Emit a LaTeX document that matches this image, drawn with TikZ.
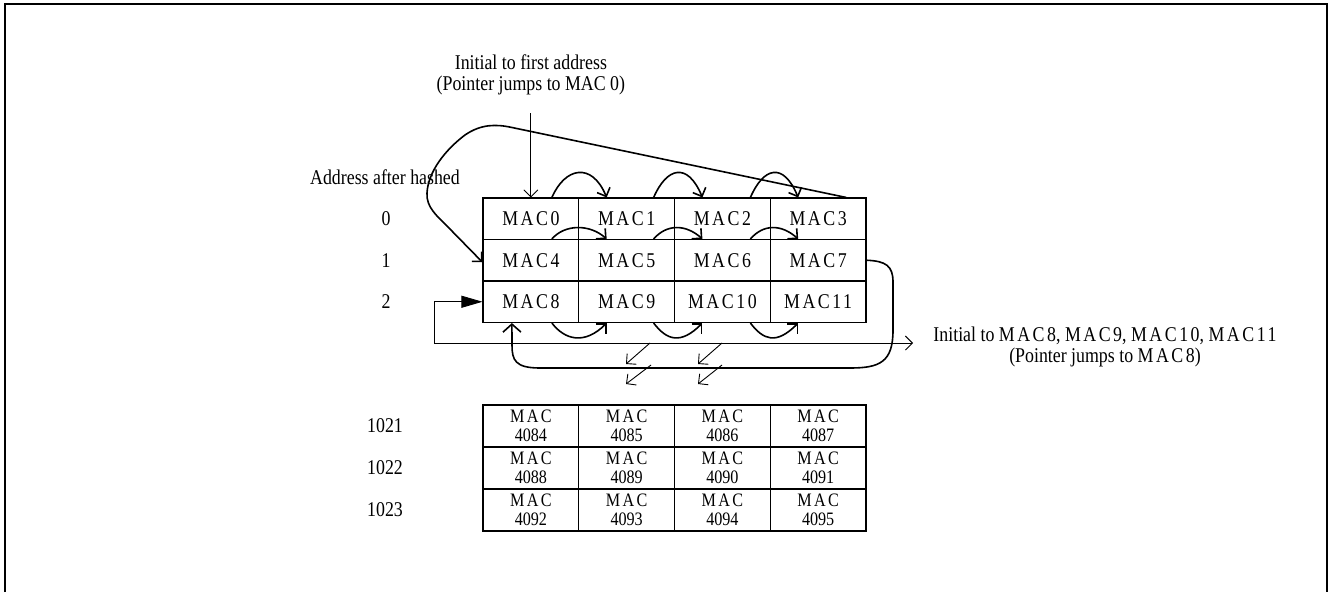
\documentclass[tikz,border=0pt]{standalone}
\usepackage{fontspec}
\setmainfont{Liberation Serif}[FakeStretch=0.85]
\newfontfamily\macfont{Liberation Serif}[FakeStretch=0.85,LetterSpace=12]
\usetikzlibrary{arrows.meta,calc}
\begin{document}
\begin{tikzpicture}[x=1pt,y=-1pt,
  every node/.style={font=\fontsize{21}{21}\selectfont},
  cell/.style={draw, line width=1.1pt, minimum width=95.75pt, minimum height=41.5pt, inner sep=0pt, font=\fontsize{21}{21}\selectfont\macfont},
  lcell/.style={draw, line width=1.1pt, minimum width=95.75pt, minimum height=42pt, inner sep=0pt, align=center, font=\fontsize{19}{18.5}\selectfont},
  hop/.style={line width=1.6pt, -{Straight Barb[length=7pt,width=14pt]}},
  thinline/.style={line width=0.9pt, -{Straight Barb[length=7pt,width=14pt]}},
  frameline/.style={line width=1.2pt}]
\useasboundingbox (0,0) rectangle (1329,592);
\draw[frameline] (5,592) -- (5,4) -- (1327,4) -- (1327,592);

% top table
\foreach \r in {0,1,2}{
  \foreach \c in {0,...,3}{
    \pgfmathsetmacro\x{530.9+95.75*\c}
    \pgfmathsetmacro\y{218.75+41.5*\r}
    \pgfmathtruncatemacro\n{4*\r+\c}
    \node[cell] (c\r\c) at (\x,\y) {MAC\n};
  }
}
% bottom table
\foreach \r in {0,1,2}{
  \foreach \c in {0,...,3}{
    \pgfmathsetmacro\x{530.9+95.75*\c}
    \pgfmathsetmacro\y{426+42*\r}
    \pgfmathtruncatemacro\m{4084+4*\r+\c}
    \node[lcell] (d\r\c) at (\x,\y) {{\macfont MAC}\\\m};
  }
}

% labels
\node[align=center] (t1) at (530.9,75) {Initial to first address\\(Pointer jumps to MAC 0)};
\node (addr) at (385,177) {Address after hashed};
\node (l0) at (386,218.75) {0};
\node (l1) at (386,260.25) {1};
\node (l2) at (386,301.75) {2};
\node (l1021) at (385,426) {1021};
\node (l1022) at (385,468) {1022};
\node (l1023) at (385,510) {1023};
\node[align=center] (r1) at (1105,347) {Initial to {\macfont MAC8}, {\macfont MAC9}, {\macfont MAC10}, {\macfont MAC11}\\(Pointer jumps to {\macfont MAC8})};

% vertical initial arrow
\coordinate (t1a) at (530.9,113);
\draw[thinline] (t1a) -- (c00.north);

% big loop MAC3 -> MAC4
\draw[hop] ([xshift=28pt]c03.north) -- (512,127.5)
  .. controls (496,124) and (481,124) .. (465,135)
  .. controls (445,150) and (428,172) .. (427,193)
  .. controls (426,207) and (437,216) .. (447,226) -- ([yshift=-2pt]c10.west);

% hops on top of row 0
\draw[hop] ([xshift=21pt]c00.north) .. controls +(13,-30) and +(-15,-36) .. ([xshift=-20pt]c01.north);
\draw[hop] ([xshift=27pt]c01.north) .. controls +(13,-30) and +(-15,-36) .. ([xshift=-20pt]c02.north);
\draw[hop] ([xshift=28pt]c02.north) .. controls +(13,-30) and +(-15,-36) .. ([xshift=-20pt]c03.north);

% hops on row 1 top border
\draw[hop] ([xshift=21pt]c10.north) .. controls +(13,-15) and +(-17,-15) .. ([xshift=-20pt]c11.north);
\draw[hop] ([xshift=27pt]c11.north) .. controls +(13,-15) and +(-17,-15) .. ([xshift=-20pt]c12.north);
\draw[hop] ([xshift=28pt]c12.north) .. controls +(13,-15) and +(-17,-15) .. ([xshift=-20pt]c13.north);

% hops below row 2
\draw[hop] ([xshift=21pt]c20.south) .. controls +(13,17) and +(-22,22) .. ([xshift=-20pt]c21.south);
\draw[hop] ([xshift=27pt]c21.south) .. controls +(13,17) and +(-22,22) .. ([xshift=-20pt]c22.south);
\draw[hop] ([xshift=28pt]c22.south) .. controls +(13,17) and +(-22,22) .. ([xshift=-20pt]c23.south);

% U loop MAC7 -> MAC8
\draw[line width=1.6pt, -{Straight Barb[length=8pt,width=18pt]}] (c13.east)
  .. controls (886,261) and (893,266) .. (893,282) -- (893,330)
  .. controls (893,362) and (880,368) .. (850,368) -- (540,368)
  .. controls (515,368) and (512,360) .. (512,345) -- ([xshift=-19pt]c20.south);

% initial to MAC8 line
\coordinate (hl) at (434,343);
\coordinate (hr) at (913,343);
\draw[line width=0.9pt, arrows={Triangle[length=21pt,width=12pt]-Straight Barb[length=7pt,width=14pt]}] (c20.west) -| (hl) -- (hr);

% diagonal continuation arrows
\coordinate (a1s) at (650,343); \coordinate (a1e) at (626,364);
\coordinate (a2s) at (651,365); \coordinate (a2e) at (626,384);
\coordinate (a3s) at (722,343); \coordinate (a3e) at (698,364);
\coordinate (a4s) at (722,365); \coordinate (a4e) at (698,384);
\draw[thinline] (a1s) -- (a1e);
\draw[thinline] (a2s) -- (a2e);
\draw[thinline] (a3s) -- (a3e);
\draw[thinline] (a4s) -- (a4e);
\end{tikzpicture}
\end{document}
